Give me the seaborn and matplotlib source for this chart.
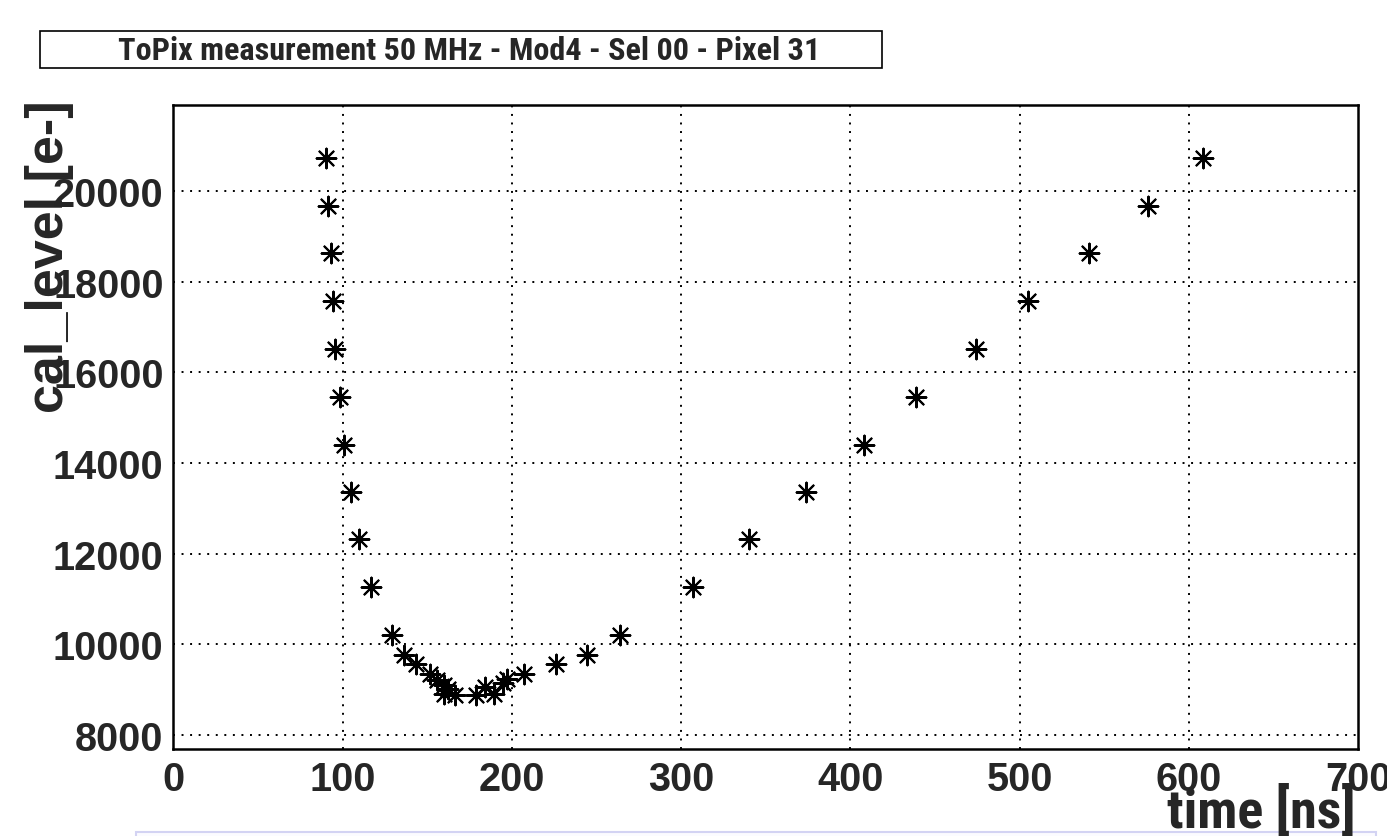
import matplotlib
matplotlib.use("Agg")
import matplotlib.pyplot as plt
from matplotlib.patches import Rectangle
from matplotlib.ticker import MultipleLocator
import seaborn as sns
import pandas as pd

sns.set_style("white")
plt.rcParams['font.family'] = ['Liberation Sans', 'DejaVu Sans']
narrow = ['Roboto Condensed', 'Liberation Sans', 'DejaVu Sans']

# Data

time_ns = [90.3, 91.5, 93.3, 94.2, 95.8, 98.2, 100.7, 105.1, 109.9, 117.0,
           128.9, 136.2, 143.1, 151.9, 155.9, 159.8, 162.2, 159.8, 166.7,
           179.1, 184.4, 189.7, 194.9, 197.2, 207.0, 225.8, 244.1, 263.8,
           307.0, 340.1, 373.8, 408.0, 438.8, 474.1, 505.1, 540.9, 576.0, 608.0]
cal_level = [20714, 19670, 18621, 17564, 16513, 15463, 14405, 13357, 12313, 11264,
             10198, 9758, 9559, 9339, 9214, 9097, 9009, 8899, 8877,
             8877, 9068, 8899, 9141, 9229, 9339, 9559, 9758, 10198,
             11264, 12313, 13357, 14405, 15463, 16513, 17564, 18621, 19670, 20714]

x_ticks = [0, 100, 200, 300, 400, 500, 600, 700]
y_ticks = [8000, 10000, 12000, 14000, 16000, 18000, 20000]

title = "ToPix measurement 50 MHz - Mod4 - Sel 00 - Pixel 31"

df = pd.DataFrame({"time": time_ns, "cal_level": cal_level})

W, H = 1387, 837
fig = plt.figure(figsize=(W / 100, H / 100), dpi=100)
ax = fig.add_axes([173.3 / W, 1 - 750 / H, 1185 / W, 644.3 / H])

# Grid
dots = (0, (1, 3.4))
for xv in x_ticks[1:-1]:
    ax.axvline(xv, color="black", lw=1.4, ls=dots, zorder=1)
for yv in y_ticks:
    ax.axhline(yv, color="black", lw=1.4, ls=dots, zorder=1)

sns.scatterplot(data=df, x="time", y="cal_level", ax=ax, marker=(8, 2, 0),
                s=200, color="black", linewidth=1.5, zorder=3)

ax.set_xlim(0, 700)
ax.set_ylim(7693, 21898)
ax.set_xticks(x_ticks)
ax.set_yticks(y_ticks)
ax.xaxis.set_minor_locator(MultipleLocator(20))
ax.yaxis.set_minor_locator(MultipleLocator(500))
ax.set_xlabel("")
ax.set_ylabel("")

for s in ax.spines.values():
    s.set_linewidth(1.8)
    s.set_color("black")

ax.tick_params(axis="both", which="both", direction="in", top=False, right=False,
               width=1.5, color="black")
ax.tick_params(axis="x", which="major", length=13.9, pad=8, labelsize=28.5)
ax.tick_params(axis="x", which="minor", length=7)
ax.tick_params(axis="y", which="major", length=25, pad=7, labelsize=28.5)
ax.tick_params(axis="y", which="minor", length=12.5)
for lab in ax.get_xticklabels() + ax.get_yticklabels():
    lab.set_fontweight("bold")

# Title box
fig.patches.append(Rectangle((40 / W, 1 - 69 / H), 842 / W, 37 / H,
                             transform=fig.transFigure, facecolor="white",
                             edgecolor="black", lw=1.2))
fig.text(469 / W, 1 - 51 / H, title, ha="center", va="center", fontsize=23.2,
         fontweight="bold", family=narrow)

# light box at the bottom
fig.patches.append(Rectangle((136 / W, 1 - 845 / H), 1240 / W, 12 / H,
                             transform=fig.transFigure, facecolor="#fbfbff",
                             edgecolor="#d3d3f3", lw=1.5, zorder=0))

# Axis titles
fig.text(1356 / W, 1 - 828 / H, "time [ns]", ha="right", va="baseline",
         fontsize=39, fontweight="bold", family=narrow, zorder=5)
fig.text(50 / W, 1 - 100 / H, "cal_level [e-]", ha="center", va="top",
         rotation=90, fontsize=37.5, fontweight="bold", zorder=5)

fig.savefig("out.png", dpi=100, facecolor="white")
